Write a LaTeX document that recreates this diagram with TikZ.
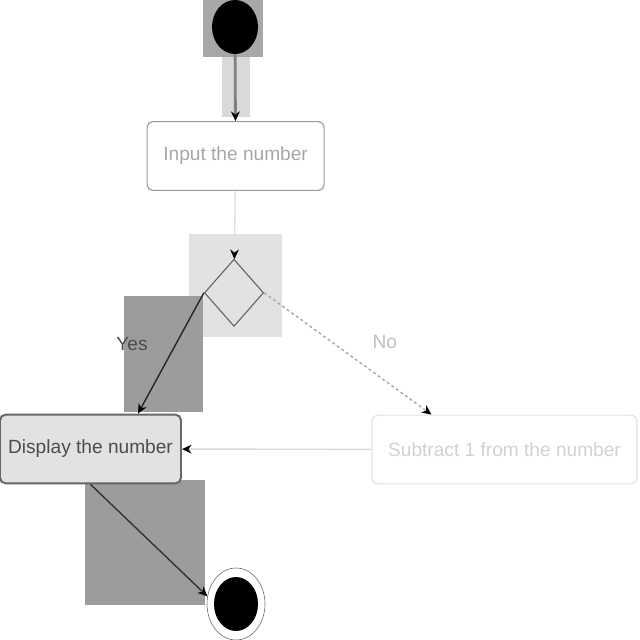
\documentclass[tikz,border=0pt]{standalone}
\usepackage{fontspec}
\setmainfont{Liberation Sans}
\usetikzlibrary{arrows.meta, shapes.geometric, positioning, calc}

\definecolor{hidark}{HTML}{9C9C9C}
\definecolor{himid}{HTML}{A8A8A8}
\definecolor{hilight}{HTML}{E2E2E2}
\definecolor{histrip}{HTML}{D9D9D9}

\begin{document}
\begin{tikzpicture}[
    every node/.style={font=\fontsize{13.6}{16}\selectfont},
    initial/.style={ellipse, fill=black, minimum width=1.15cm, minimum height=1.35cm, inner sep=0pt},
    final/.style={ellipse, draw=black!60, fill=white, minimum width=1.45cm, minimum height=1.8cm, inner sep=0pt},
    action/.style={rectangle, rounded corners=4pt, minimum height=1.72cm, text centered, line width=0.8pt},
    decision/.style={diamond, minimum width=1.48cm, minimum height=1.68cm, inner sep=0pt, draw=black!60, line width=0.8pt},
    arrow/.style={line width=1pt, -{Stealth[length=2.4mm, width=2.2mm, color=black]}}
]
\useasboundingbox (0,0) rectangle (16,-16);

% highlights
\fill[himid] (5.075,0) rectangle (6.575,-1.425);
\fill[histrip] (5.55,-1.425) rectangle (6.25,-2.925);
\fill[hilight] (4.725,-5.85) rectangle (7.05,-8.425);
\fill[hidark] (3.1,-7.4) rectangle (5.075,-10.3);
\fill[hidark] (2.125,-12) rectangle (5.125,-15.125);

% nodes
\node (start) [initial] at (5.875,-0.675) {};
\node (input) [action, draw=black!40, text=black!35, minimum width=4.425cm] at (5.89,-3.9) {Input the number};
\node (check) [decision] at (5.85,-7.32) {};
\node (display) [action, draw=black!60, fill=hilight, text=black!70, minimum width=4.525cm, line width=1.4pt] at (2.2625,-11.225) {Display the number};
\node (subtract) [action, draw=black!12, text=black!18, minimum width=6.625cm] at (12.6125,-11.2375) {Subtract 1 from the number};
\node (stop) [final] at (5.9,-15.1) {};
\node [ellipse, fill=black, minimum width=1.1cm, minimum height=1.35cm, inner sep=0pt] at (stop) {};

% labels
\node (yes) [text=black!70] at (3.3,-8.6) {Yes};
\node (no) [text=black!25] at (9.62,-8.55) {No};

% arrows
\draw [arrow, black!50, line width=2pt] (start) -- (input);
\draw [arrow, black!12] (input) -- (check);
\draw [arrow, black!85] (check.west) -- ([xshift=-1.1cm]display.north east);
\draw [arrow, black!35, dash pattern=on 2pt off 2pt] (check.east) -- ([xshift=1.5cm]subtract.north west);
\draw [arrow, black!15] (subtract) -- (display);
\draw [arrow, black!80] (display.south) -- (stop.165);

\end{tikzpicture}
\end{document}
